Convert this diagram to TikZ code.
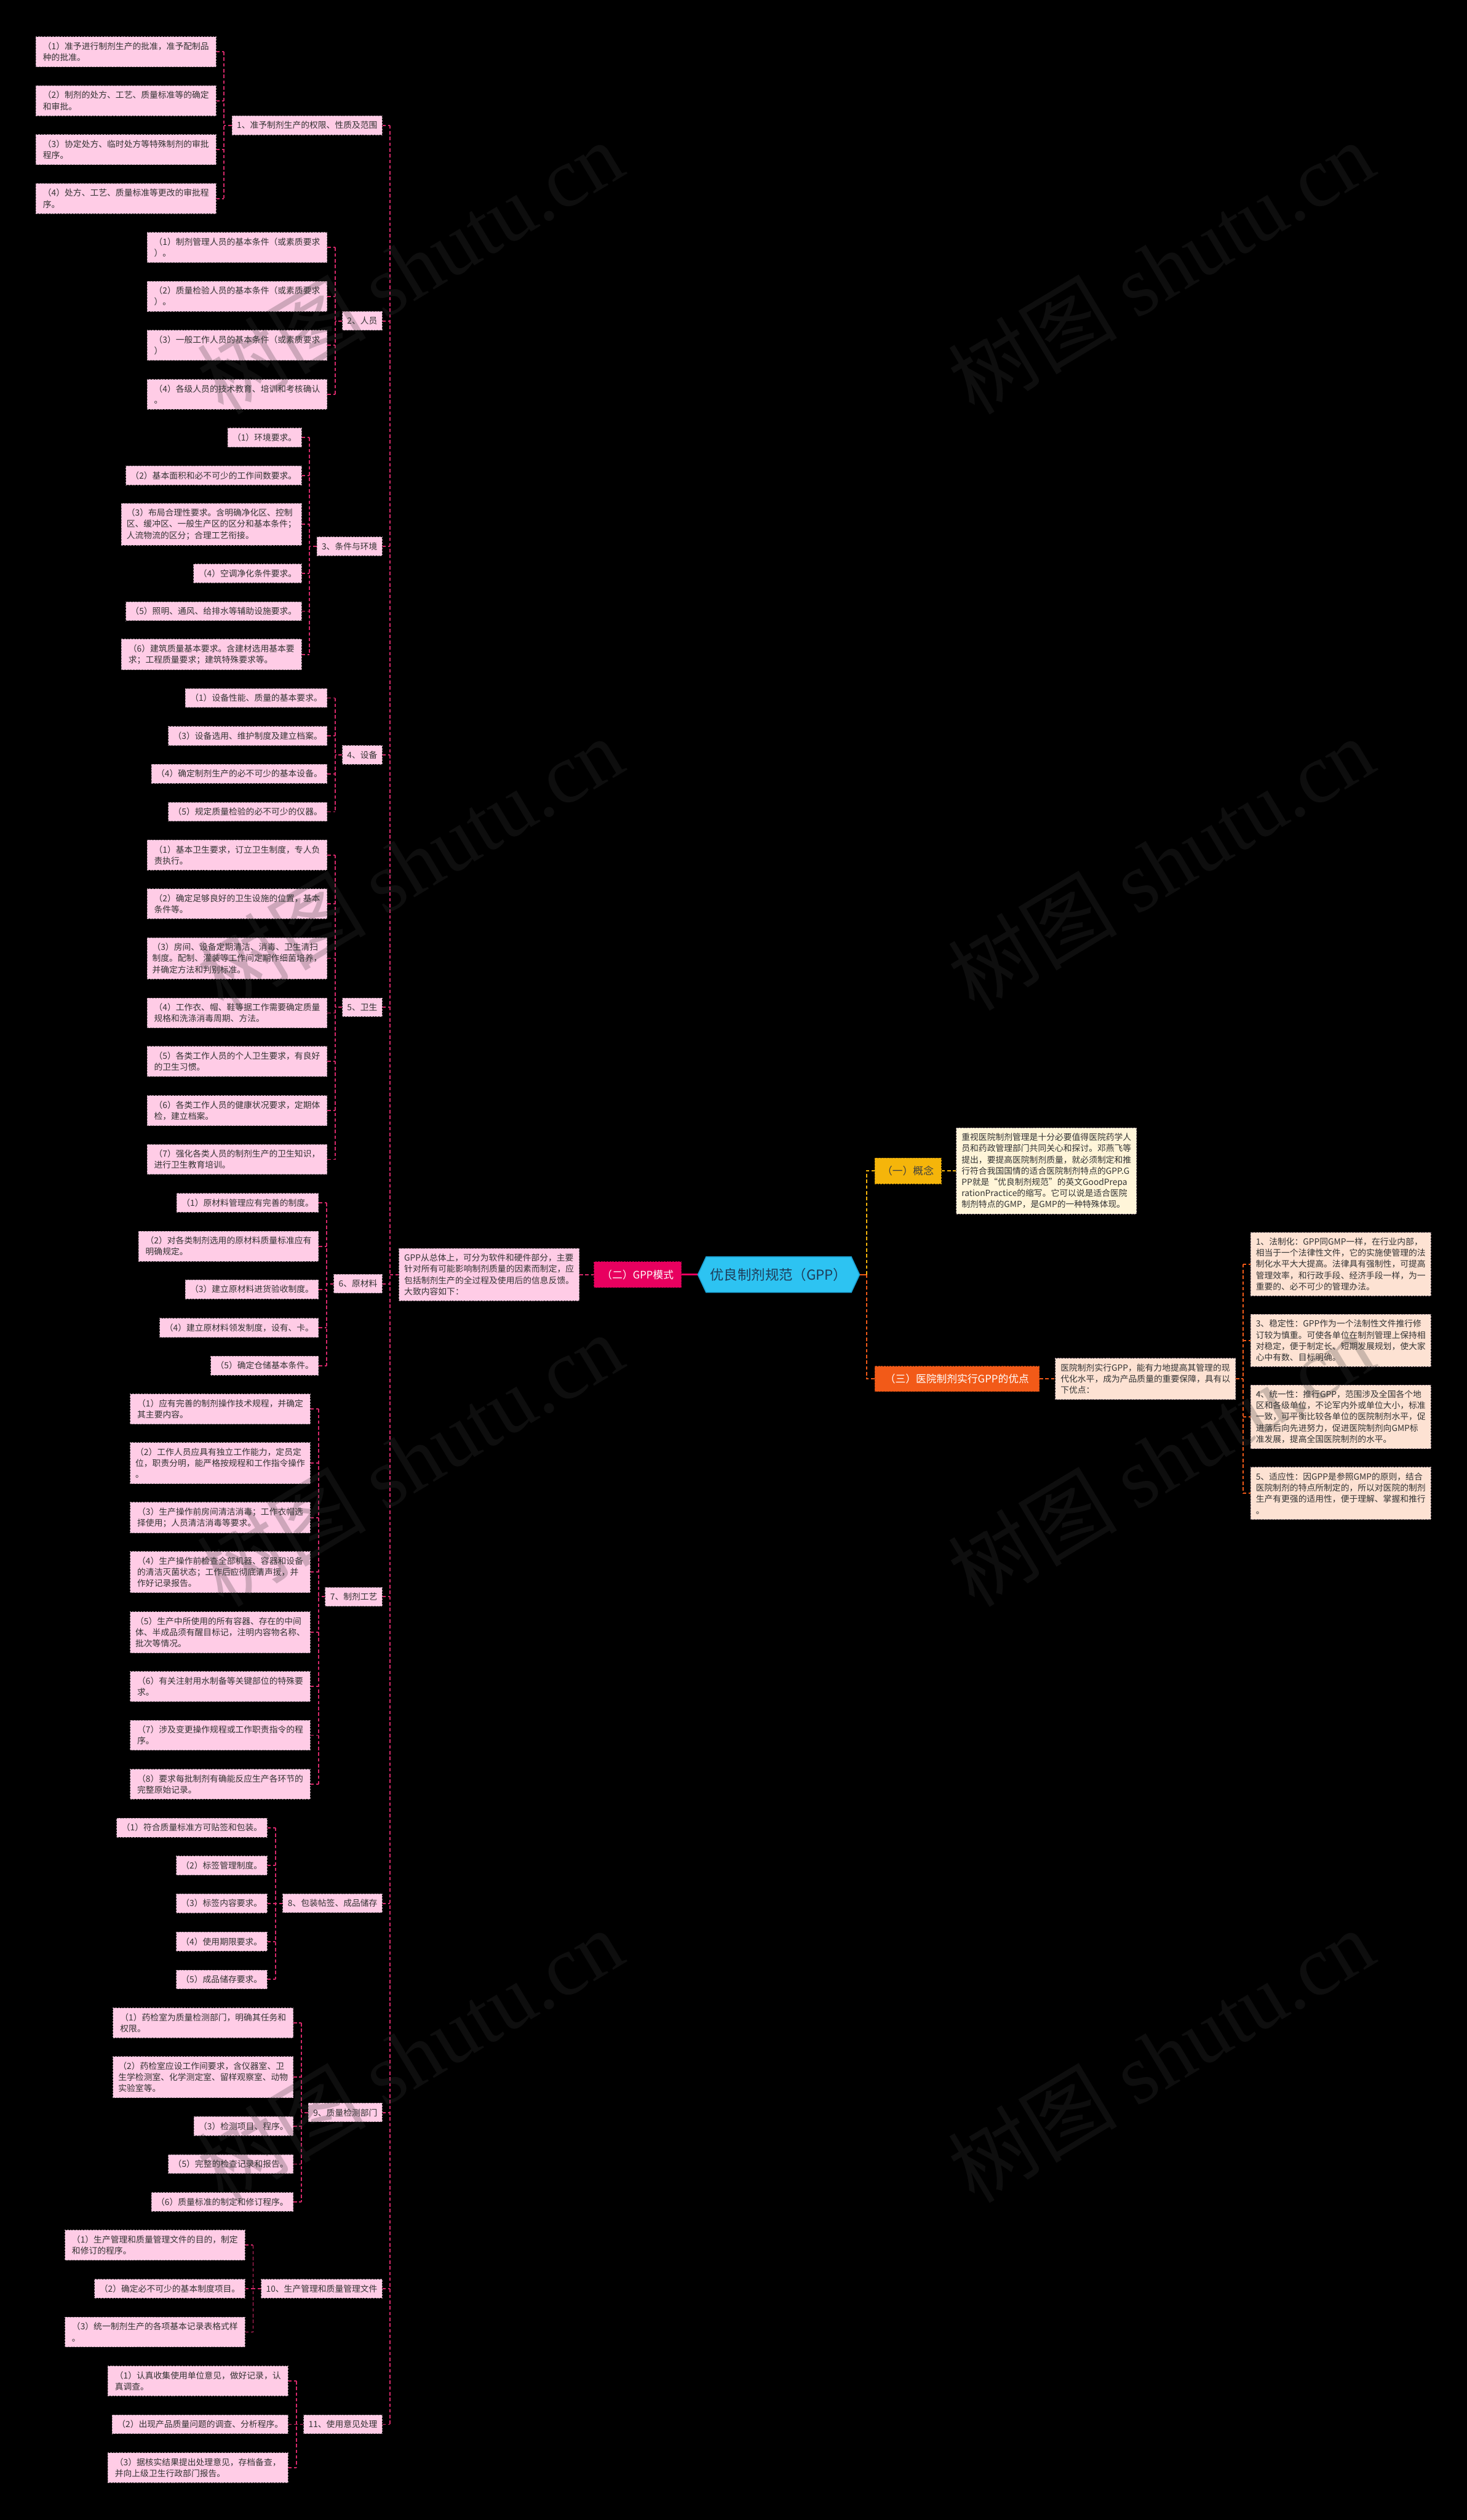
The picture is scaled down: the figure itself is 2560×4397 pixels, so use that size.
\documentclass[tikz,border=0pt]{standalone}
\usepackage{fontspec}
\setmainfont{Noto Sans CJK SC}
\newfontfamily\wmlatin{Liberation Serif}
\usetikzlibrary{shapes.symbols}
\definecolor{leafpink}{HTML}{FFCCE6}
\definecolor{boxline}{HTML}{9E8A93}
\definecolor{connc}{HTML}{D6286A}
\definecolor{txt}{HTML}{333333}
\definecolor{erc}{HTML}{E8005F}
\definecolor{rootc}{HTML}{2DC3F2}
\definecolor{rootline}{HTML}{1BA3D6}
\definecolor{roottxt}{HTML}{1E3D5A}
\definecolor{yel}{HTML}{F5B50A}
\definecolor{cream}{HTML}{FFF5D9}
\definecolor{org}{HTML}{F25A18}
\definecolor{peach}{HTML}{FDE2D3}
\definecolor{wmc}{HTML}{383838}
\newcommand\leaffont{\fontsize{4.211pt}{5.548pt}\selectfont}
\newcommand\midfont{\fontsize{5.12pt}{6.4pt}\selectfont}
\newcommand\rootfont{\fontsize{6.83pt}{8pt}\selectfont}
\tikzset{
  nbox/.style={draw=boxline, dash pattern=on 0.85pt off 0.57pt, line width=0.3pt,
    inner xsep=2.42pt, inner ysep=2.70pt, font=\leaffont, text=txt, align=left},
  leaf/.style={nbox, fill=leafpink, anchor=east},
  mleaf/.style={leaf, minimum width=89.34pt},
  cat/.style={nbox, fill=leafpink, anchor=east},
  rleaf/.style={nbox, fill=peach, anchor=west, minimum width=89.34pt},
  conn/.style={draw=connc, line width=0.57pt, dash pattern=on 1.7pt off 1.14pt},
  yconn/.style={draw=yel, line width=0.57pt, dash pattern=on 1.7pt off 1.14pt},
  oconn/.style={draw=org, line width=0.57pt, dash pattern=on 1.7pt off 1.14pt},
  wm/.style={font=\fontsize{42pt}{42pt}\selectfont, text=wmc, text opacity=0.25, rotate=31},
}
\begin{document}
\begin{tikzpicture}[x=0.01cm,y=-0.01cm]
\useasboundingbox (0,0) rectangle (2560,4397);
\fill[black] (0,0) rectangle (2560,4397);

% ---------- group 1
\node[mleaf] (g1a) at (377.5,90.3) {（1）准予进行制剂生产的批准，准予配制品\\种的批准。};
\node[mleaf] (g1b) at (377.5,175.7) {（2）制剂的处方、工艺、质量标准等的确定\\和审批。};
\node[mleaf] (g1c) at (377.5,261) {（3）协定处方、临时处方等特殊制剂的审批\\程序。};
\node[mleaf] (g1d) at (377.5,346.4) {（4）处方、工艺、质量标准等更改的审批程\\序。};
\node[cat] (c1) at (667.6,218.7) {1、准予制剂生产的权限、性质及范围};
\coordinate (b1) at (390.7,218.7);
% ---------- group 2
\node[mleaf] (g2a) at (571.4,432) {（1）制剂管理人员的基本条件（或素质要求\\）。};
\node[mleaf] (g2b) at (571.4,517) {（2）质量检验人员的基本条件（或素质要求\\）。};
\node[mleaf] (g2c) at (571.4,602.3) {（3）一般工作人员的基本条件（或素质要求\\）};
\node[mleaf] (g2d) at (571.4,688) {（4）各级人员的技术教育、培训和考核确认\\。};
\node[cat] (c2) at (667.6,560) {2、人员};
\coordinate (b2) at (584.7,560);
% ---------- group 3
\node[leaf] (g3a) at (526.7,763.5) {（1）环境要求。};
\node[leaf] (g3b) at (526.7,829.6) {（2）基本面积和必不可少的工作间数要求。};
\node[mleaf] (g3c) at (526.7,914.7) {（3）布局合理性要求。含明确净化区、控制\\区、缓冲区、一般生产区的区分和基本条件；\\人流物流的区分；合理工艺衔接。};
\node[leaf] (g3d) at (526.7,1000.5) {（4）空调净化条件要求。};
\node[leaf] (g3e) at (526.7,1066.5) {（5）照明、通风、给排水等辅助设施要求。};
\node[mleaf] (g3f) at (526.7,1142) {（6）建筑质量基本要求。含建材选用基本要\\求；工程质量要求；建筑特殊要求等。};
\node[cat] (c3) at (667.6,953) {3、条件与环境};
\coordinate (b3) at (540.4,953);
% ---------- group 4
\node[leaf] (g4a) at (571.4,1217.9) {（1）设备性能、质量的基本要求。};
\node[leaf] (g4b) at (571.4,1284) {（3）设备选用、维护制度及建立档案。};
\node[leaf] (g4c) at (571.4,1350) {（4）确定制剂生产的必不可少的基本设备。};
\node[leaf] (g4d) at (571.4,1416.5) {（5）规定质量检验的必不可少的仪器。};
\node[cat] (c4) at (667.6,1317) {4、设备};
\coordinate (b4) at (584.7,1317);
% ---------- group 5
\node[mleaf] (g5a) at (571.4,1492) {（1）基本卫生要求，订立卫生制度，专人负\\责执行。};
\node[mleaf] (g5b) at (571.4,1577) {（2）确定足够良好的卫生设施的位置，基本\\条件等。};
\node[mleaf] (g5c) at (571.4,1672) {（3）房间、设备定期清洁、消毒、卫生清扫\\制度。配制、灌装等工作间定期作细菌培养，\\并确定方法和判别标准。};
\node[mleaf] (g5d) at (571.4,1767.5) {（4）工作衣、帽、鞋等据工作需要确定质量\\规格和洗涤消毒周期、方法。};
\node[mleaf] (g5e) at (571.4,1852) {（5）各类工作人员的个人卫生要求，有良好\\的卫生习惯。};
\node[mleaf] (g5f) at (571.4,1938) {（6）各类工作人员的健康状况要求，定期体\\检，建立档案。};
\node[mleaf] (g5g) at (571.4,2023) {（7）强化各类人员的制剂生产的卫生知识，\\进行卫生教育培训。};
\node[cat] (c5) at (667.6,1757.6) {5、卫生};
\coordinate (b5) at (584.7,1757.6);
% ---------- group 6
\node[leaf] (g6a) at (556.5,2098.6) {（1）原材料管理应有完善的制度。};
\node[mleaf] (g6b) at (556.5,2174.4) {（2）对各类制剂选用的原材料质量标准应有\\明确规定。};
\node[leaf] (g6c) at (556.5,2249.7) {（3）建立原材料进货验收制度。};
\node[leaf] (g6d) at (556.5,2316.7) {（4）建立原材料领发制度，设有、卡。};
\node[leaf] (g6e) at (556.5,2382.8) {（5）确定仓储基本条件。};
\node[cat] (c6) at (667.6,2240) {6、原材料};
\coordinate (b6) at (570.2,2240);
% ---------- group 7
\node[mleaf] (g7a) at (542,2458.5) {（1）应有完善的制剂操作技术规程，并确定\\其主要内容。};
\node[mleaf] (g7b) at (542,2553) {（2）工作人员应具有独立工作能力，定员定\\位，职责分明，能严格按规程和工作指令操作\\。};
\node[mleaf] (g7c) at (542,2648) {（3）生产操作前房间清洁消毒；工作衣帽选\\择使用；人员清洁消毒等要求。};
\node[mleaf] (g7d) at (542,2743) {（4）生产操作前检查全部机器、容器和设备\\的清洁灭菌状态；工作后应彻底清声援，并\\作好记录报告。};
\node[mleaf] (g7e) at (542,2848) {（5）生产中所使用的所有容器、存在的中间\\体、半成品须有醒目标记，注明内容物名称、\\批次等情况。};
\node[mleaf] (g7f) at (542,2942.7) {（6）有关注射用水制备等关键部位的特殊要\\求。};
\node[mleaf] (g7g) at (542,3027.8) {（7）涉及变更操作规程或工作职责指令的程\\序。};
\node[mleaf] (g7h) at (542,3113) {（8）要求每批制剂有确能反应生产各环节的\\完整原始记录。};
\node[cat] (c7) at (667.6,2786) {7、制剂工艺};
\coordinate (b7) at (555.7,2786);
% ---------- group 8
\node[leaf] (g8a) at (466.6,3189) {（1）符合质量标准方可贴签和包装。};
\node[leaf] (g8b) at (466.6,3255) {（2）标签管理制度。};
\node[leaf] (g8c) at (466.6,3321) {（3）标签内容要求。};
\node[leaf] (g8d) at (466.6,3387.7) {（4）使用期限要求。};
\node[leaf] (g8e) at (466.6,3453.8) {（5）成品储存要求。};
\node[cat] (c8) at (667.6,3321) {8、包装帖签、成品储存};
\coordinate (b8) at (481,3321);
% ---------- group 9
\node[mleaf] (g9a) at (512.2,3529.6) {（1）药检室为质量检测部门，明确其任务和\\权限。};
\node[mleaf] (g9b) at (512.2,3624.4) {（2）药检室应设工作间要求，含仪器室、卫\\生学检测室、化学测定室、留样观察室、动物\\实验室等。};
\node[leaf] (g9c) at (512.2,3709.8) {（3）检测项目、程序。};
\node[leaf] (g9d) at (512.2,3775.9) {（5）完整的检查记录和报告。};
\node[leaf] (g9e) at (512.2,3842) {（6）质量标准的制定和修订程序。};
\node[cat] (c9) at (667.6,3686) {9、质量检测部门};
\coordinate (b9) at (525.9,3686);
% ---------- group 10
\node[mleaf] (g10a) at (428,3917.5) {（1）生产管理和质量管理文件的目的，制定\\和修订的程序。};
\node[leaf] (g10b) at (428,3993.3) {（2）确定必不可少的基本制度项目。};
\node[mleaf] (g10c) at (428,4069) {（3）统一制剂生产的各项基本记录表格式样\\。};
\node[cat] (c10) at (667.6,3993.3) {10、生产管理和质量管理文件};
\coordinate (b10) at (441.7,3993.3);
% ---------- group 11
\node[mleaf] (g11a) at (503,4154.3) {（1）认真收集使用单位意见，做好记录，认\\真调查。};
\node[leaf] (g11b) at (503,4230) {（2）出现产品质量问题的调查、分析程序。};
\node[mleaf] (g11c) at (503,4305.7) {（3）据核实结果提出处理意见，存档备查，\\并向上级卫生行政部门报告。};
\node[cat] (c11) at (667.6,4230) {11、使用意见处理};
\coordinate (b11) at (517,4230);

% ---------- group connectors
\foreach \g/\first/\last/\ls in {1/a/d/{a,b,c,d}, 2/a/d/{a,b,c,d}, 3/a/f/{a,b,c,d,e,f},
  4/a/d/{a,b,c,d}, 5/a/g/{a,b,c,d,e,f,g}, 6/a/e/{a,b,c,d,e}, 7/a/h/{a,b,c,d,e,f,g,h},
  8/a/e/{a,b,c,d,e}, 9/a/e/{a,b,c,d,e}, 10/a/c/{a,b,c}, 11/a/c/{a,b,c}}{
  \draw[conn] (g\g\first.east -| b\g) -- (g\g\last.east -| b\g);
  \draw[conn] (c\g.west) -- (b\g);
  \foreach \q in \ls { \draw[conn] (g\g\q.east) -- (g\g\q.east -| b\g); }
}

% ---------- centre
\node[nbox, fill=leafpink, anchor=west, minimum width=89.34pt] (sum) at (696,2224)
  {GPP从总体上，可分为软件和硬件部分，主要\\针对所有可能影响制剂质量的因素而制定，应\\包括制剂生产的全过程及使用后的信息反馈。\\大致内容如下：};
\coordinate (sp) at (681,2224);
\draw[conn] (c1.east -| sp) -- (c11.east -| sp);
\foreach \i in {1,...,11} { \draw[conn] (c\i.east) -- (c\i.east -| sp); }
\draw[conn] (sum.west) -- (sp);

\node[draw=erc!70!black, dash pattern=on 0.85pt off 0.57pt, line width=0.3pt, fill=erc,
  text=white, font=\midfont, minimum width=43.25pt, minimum height=12.8pt, inner sep=1pt] (er) at (1113,2224) {（二）GPP模式};
\node[signal, signal to=east and west, signal pointer angle=130, fill=rootc, draw=rootline,
  line width=0.5pt, text=roottxt, font=\rootfont, minimum width=80.24pt, minimum height=17.64pt, inner sep=1pt] (root) at (1359,2224) {优良制剂规范（GPP）};
\draw[conn] (sum.east) -- (er.west);
\draw[erc, line width=1pt] (er.east) -- (root.west);

\coordinate (tr) at (1512.5,2224);
\draw[org, line width=0.7pt] (root.east) -- (tr);

\node[draw=yel!75!black, dash pattern=on 0.85pt off 0.57pt, line width=0.3pt, fill=yel,
  text=black!75, font=\midfont, anchor=west, minimum width=33pt, minimum height=12.8pt, inner sep=1pt] (k1) at (1526,2043) {（一）概念};
\node[nbox, fill=cream, anchor=west, minimum width=89.34pt] (kt) at (1668.7,2043)
  {重视医院制剂管理是十分必要值得医院药学人\\员和药政管理部门共同关心和探讨。邓燕飞等\\提出，要提高医院制剂质量，就必须制定和推\\行符合我国国情的适合医院制剂特点的GPP.G\\PP就是“优良制剂规范”的英文GoodPrepa\\rationPractice的缩写。它可以说是适合医院\\制剂特点的GMP，是GMP的一种特殊体现。};
\node[draw=org!75!black, dash pattern=on 0.85pt off 0.57pt, line width=0.3pt, fill=org,
  text=white, font=\midfont, anchor=west, minimum width=81.66pt, minimum height=12.5pt, inner sep=1pt] (k3) at (1526,2406) {（三）医院制剂实行GPP的优点};
\node[nbox, fill=peach, anchor=west, minimum width=89.34pt] (k3t) at (1841.5,2406)
  {医院制剂实行GPP，能有力地提高其管理的现\\代化水平，成为产品质量的重要保障，具有以\\下优点：};

\draw[yconn] (tr) |- (k1.west);
\draw[oconn] (tr) |- (k3.west);
\draw[yconn] (k1.east) -- (kt.west);
\draw[oconn] (k3.east) -- (k3t.west);

\node[rleaf] (r1) at (2182.3,2205.6) {1、法制化：GPP同GMP一样，在行业内部，\\相当于一个法律性文件，它的实施使管理的法\\制化水平大大提高。法律具有强制性，可提高\\管理效率，和行政手段、经济手段一样，为一\\重要的、必不可少的管理办法。};
\node[rleaf] (r3) at (2182.3,2339) {3、稳定性：GPP作为一个法制性文件推行修\\订较为慎重。可使各单位在制剂管理上保持相\\对稳定，便于制定长、短期发展规划，使大家\\心中有数、目标明确。};
\node[rleaf] (r4) at (2182.3,2472) {4、统一性：推行GPP，范围涉及全国各个地\\区和各级单位，不论军内外或单位大小，标准\\一致，可平衡比较各单位的医院制剂水平，促\\进落后向先进努力，促进医院制剂向GMP标\\准发展，提高全国医院制剂的水平。};
\node[rleaf] (r5) at (2182.3,2605.7) {5、适应性：因GPP是参照GMP的原则，结合\\医院制剂的特点所制定的，所以对医院的制剂\\生产有更强的适用性，便于理解、掌握和推行\\。};
\coordinate (rb) at (2169.3,2406);
\draw[oconn] (k3t.east) -- (rb);
\draw[oconn] (r1.west -| rb) -- (r5.west -| rb);
\foreach \q in {r1,r3,r4,r5} { \draw[oconn] (\q.west -| rb) -- (\q.west); }

% ---------- watermarks
\foreach \wx in {715,2026}{
  \foreach \wy in {466,1506,2546,3586}{
    \node[wm] at (\wx,\wy) {树图 {\wmlatin shutu.cn}};
  }
}
\end{tikzpicture}
\end{document}
